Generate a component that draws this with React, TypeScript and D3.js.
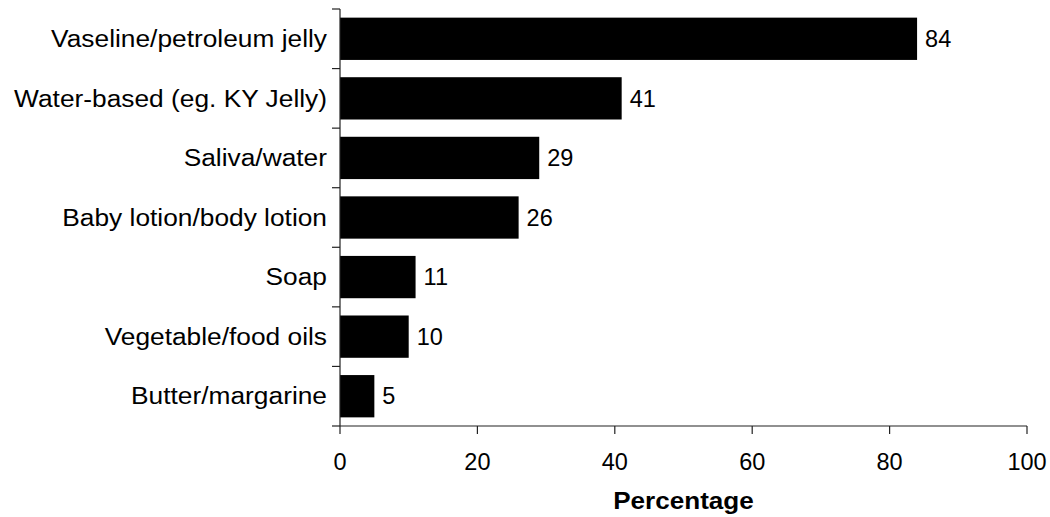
import React from "react";
import * as d3 from "d3";

const categories = [
  "Vaseline/petroleum jelly",
  "Water-based (eg. KY Jelly)",
  "Saliva/water",
  "Baby lotion/body lotion",
  "Soap",
  "Vegetable/food oils",
  "Butter/margarine",
];
const values = [84, 41, 29, 26, 11, 10, 5];
const xTicks = [0, 20, 40, 60, 80, 100];
const xTitle = "Percentage";

const W = 1050;
const H = 517;
const left = 340;
const right = 1027;
const top = 9;
const bottom = 426;
const font = "Arial, 'Liberation Sans', Helvetica, sans-serif";
const fs = 23.5;
const stretch = 1.12;

export default function App() {
  const x = d3.scaleLinear().domain([0, 100]).range([left, right]);
  const y = d3
    .scaleBand<string>()
    .domain(categories)
    .range([top, bottom])
    .paddingInner(0.29)
    .paddingOuter(0.145);
  const step = y.step();
  const boundaries = d3.range(categories.length + 1).map((i) => top + i * step);

  return (
    <svg
      width={W}
      height={H}
      style={{ position: "absolute", left: 0, top: 0, display: "block", background: "#fff" }}
      fontFamily={font}
    >
      {categories.map((c, i) => (
        <g key={c}>
          <rect
            x={x(0)}
            y={y(c)!}
            width={x(values[i]) - x(0)}
            height={y.bandwidth()}
            fill="#000"
          />
          <text
            x={x(values[i]) + 8}
            y={y(c)! + y.bandwidth() / 2}
            dy="0.35em"
            fontSize={fs}
            fill="#000"
          >
            {values[i]}
          </text>
          <text
            transform={`translate(${left - 13},${y(c)! + y.bandwidth() / 2}) scale(${stretch},1)`}
            dy="0.35em"
            fontSize={fs}
            textAnchor="end"
            fill="#000"
          >
            {c}
          </text>
        </g>
      ))}
      {/* y axis */}
      <line x1={left} x2={left} y1={top} y2={bottom} stroke="#222" strokeWidth={1.2} />
      {boundaries.map((b, i) => (
        <line key={i} x1={left - 8} x2={left} y1={b} y2={b} stroke="#222" strokeWidth={1.2} />
      ))}
      {/* x axis */}
      <line x1={left} x2={right} y1={bottom} y2={bottom} stroke="#222" strokeWidth={1.2} />
      {xTicks.map((t) => (
        <g key={t}>
          <line x1={x(t)} x2={x(t)} y1={bottom} y2={bottom + 8} stroke="#222" strokeWidth={1.2} />
          <text x={x(t)} y={470} textAnchor="middle" fontSize={fs} fill="#000">
            {t}
          </text>
        </g>
      ))}
      <text
        transform={`translate(${(left + right) / 2},509) scale(1.11,1)`}
        textAnchor="middle"
        fontSize={fs}
        fontWeight="bold"
        fill="#000"
      >
        {xTitle}
      </text>
    </svg>
  );
}
